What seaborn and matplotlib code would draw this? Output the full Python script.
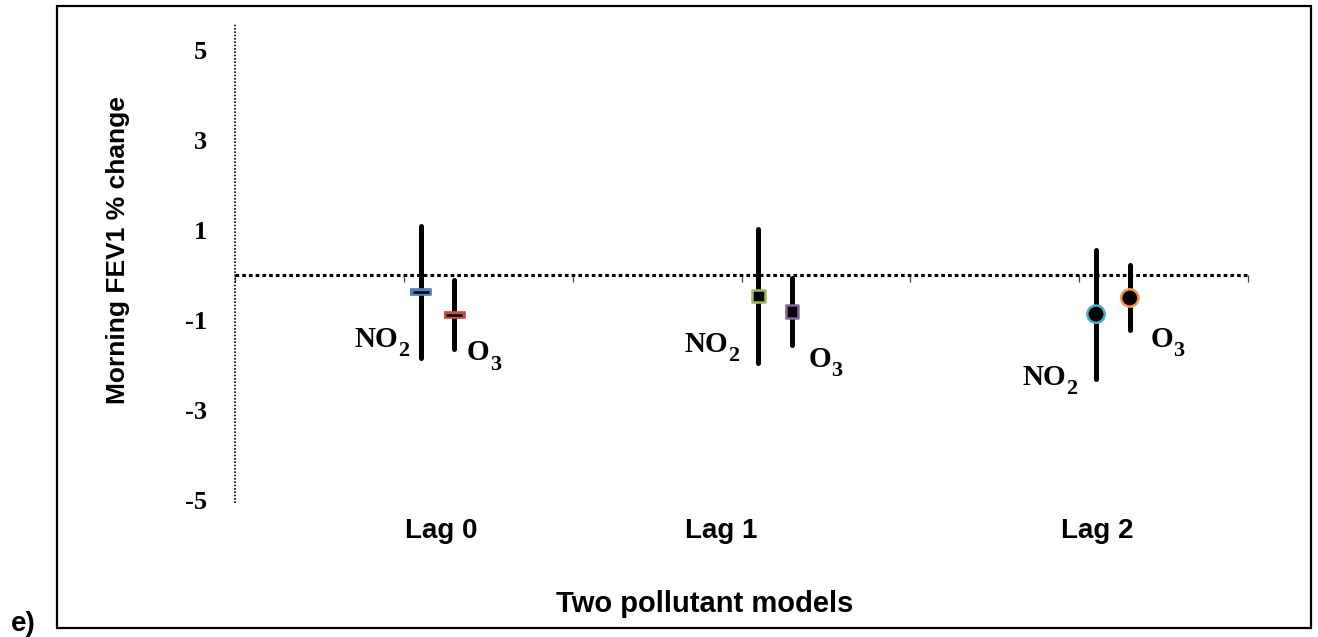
import pandas as pd
import numpy as np
import matplotlib.pyplot as plt
from matplotlib.patches import Rectangle
import seaborn as sns

# values (% change in morning FEV1, 95% CI)
lags = ['Lag 0', 'Lag 0', 'Lag 1', 'Lag 1', 'Lag 2', 'Lag 2']
pollutants = ['NO2', 'O3', 'NO2', 'O3', 'NO2', 'O3']
x_pos = [1.1, 1.3, 3.1, 3.3, 5.1, 5.3]
estimate = [-0.37, -0.87, -0.46, -0.80, -0.86, -0.50]
ci_low = [-1.84, -1.63, -1.94, -1.54, -2.29, -1.21]
ci_high = [1.10, -0.10, 1.03, -0.06, 0.56, 0.23]
edge_colors = ['#4F81BD', '#C0504D', '#9BBB59', '#8064A2', '#4BACC6', '#F79646']
lag_labels = ['Lag 0', 'Lag 1', 'Lag 2']
y_ticks = [-5, -3, -1, 1, 3, 5]

df = pd.DataFrame({'lag': lags, 'pollutant': pollutants, 'x': x_pos,
                   'est': estimate, 'lo': ci_low, 'hi': ci_high,
                   'edge': edge_colors})

sns.set_style('white')
plt.rcParams['font.family'] = ['Liberation Sans', 'DejaVu Sans']
plt.rcParams['text.color'] = 'black'
plt.rcParams['xtick.color'] = 'black'
plt.rcParams['ytick.color'] = 'black'

W, H = 1318, 637
fig = plt.figure(figsize=(W / 100, H / 100), dpi=100)
ax = fig.add_axes([235 / W, 1 - 502.7 / H, (1248 - 235) / W, (502.7 - 23.5) / H])

# confidence intervals
ax.vlines(df['x'], df['lo'], df['hi'], colors='black', linewidth=3.6,
          capstyle='round', zorder=2)

# markers, one style per lag
dash = [(-1, -0.28), (1, -0.28), (1, 0.28), (-1, 0.28)]
sub = df[df['lag'] == 'Lag 0']
sns.scatterplot(data=sub, x='x', y='est', marker=dash, s=220,
                color=sub['edge'].tolist(), edgecolor=sub['edge'].tolist(),
                linewidth=1.2, legend=False, ax=ax, zorder=3)
sns.scatterplot(data=sub, x='x', y='est', marker='_', s=130, color='black',
                linewidth=1.8, legend=False, ax=ax, zorder=4)
sub = df[df['lag'] == 'Lag 1']
sns.scatterplot(data=sub, x='x', y='est', marker='s', s=80, color='black',
                edgecolor=sub['edge'].tolist(), linewidth=1.8, legend=False,
                ax=ax, zorder=3)
sub = df[df['lag'] == 'Lag 2']
sns.scatterplot(data=sub, x='x', y='est', marker='o', s=155, color='black',
                edgecolor=sub['edge'].tolist(), linewidth=1.8, legend=False,
                ax=ax, zorder=3)

# pollutant labels beside each bar (main letters + subscript digit)
label_xy = [(0.705, -1.59), (1.374, -1.88), (2.660, -1.70),
            (3.395, -2.03), (4.662, -2.43), (5.421, -1.59)]
names = {'NO2': ('NO', '2'), 'O3': ('O', '3')}
for p, (lx, ly) in zip(df['pollutant'], label_xy):
    main, digit = names[p]
    t = ax.text(lx, ly, main, ha='left', va='baseline', fontsize=21,
                fontfamily='Liberation Serif', fontweight='bold')
    ax.annotate(digit, xy=(1, 0), xycoords=t, xytext=(0.5, -2.5),
                textcoords='offset points', ha='left', va='baseline',
                fontsize=16, fontfamily='Liberation Serif', fontweight='bold')

# lag labels under the plot
for lab, lx in zip(lag_labels, [1.22, 2.88, 5.11]):
    ax.text(lx, -5.67, lab, ha='center', va='center', fontsize=20,
            fontweight='bold')

ax.set_xlim(0, 6)
ax.set_ylim(-5.05, 5.6)
ax.set_yticks(y_ticks)
ax.set_yticklabels([str(t) for t in y_ticks], fontfamily='Liberation Serif',
                   fontweight='bold', fontsize=19)
ax.tick_params(axis='y', left=True, length=0, pad=20)
ax.set_xticks(range(7))
ax.set_xticklabels([])
ax.tick_params(axis='x', bottom=True, direction='out', length=5, width=0.9,
               color='#444444')
ax.set_xlabel('')
ax.set_ylabel('')

for s in ['top', 'right']:
    ax.spines[s].set_visible(False)
ax.spines['left'].set_capstyle('butt')
ax.spines['left'].set_linewidth(1.2)
ax.spines['left'].set_linestyle((0, (1, 1)))
ax.spines['left'].set_color('black')
ax.spines['bottom'].set_position(('data', 0))
ax.spines['bottom'].set_capstyle('butt')
ax.spines['bottom'].set_linewidth(2.2)
ax.spines['bottom'].set_linestyle((0, (1.2, 1.0)))
ax.spines['bottom'].set_color('black')

fig.text(118 / W, 1 - 250 / H, 'Morning FEV1 % change', rotation=90,
         ha='center', va='center', fontsize=19, fontweight='bold')
fig.text(705 / W, 1 - 604 / H, 'Two pollutant models', ha='center',
         va='center', fontsize=21, fontweight='bold')
fig.text(23 / W, 1 - 624 / H, 'e)', ha='center', va='center', fontsize=20,
         fontweight='bold')
fig.patches.append(Rectangle((57 / W, 1 - 628 / H), (1311 - 57) / W,
                             (628 - 6) / H, transform=fig.transFigure,
                             fill=False, edgecolor='black', linewidth=1.6))

fig.savefig('out.png', dpi=100)
